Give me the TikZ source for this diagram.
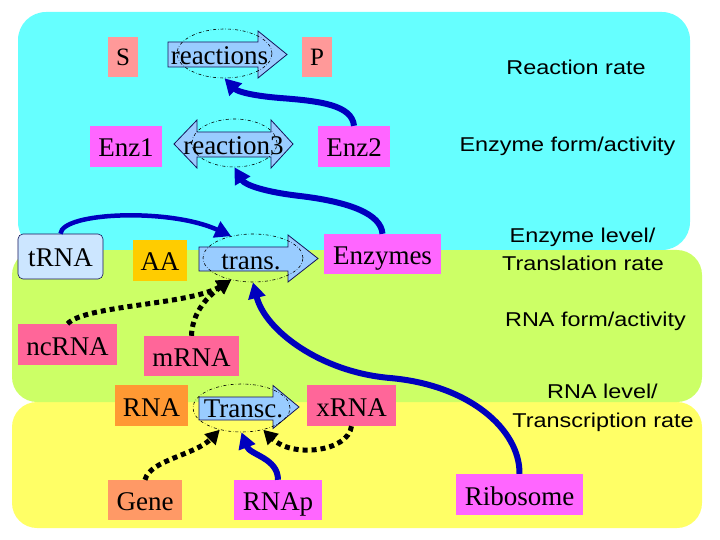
\documentclass[tikz,border=0pt]{standalone}
\usepackage{fontspec}
\usepackage{graphicx}
\setmainfont{Liberation Serif}
\newfontfamily\labelfont{Liberation Sans}
\usetikzlibrary{shapes.geometric,arrows.meta}
\definecolor{bgcyan}{HTML}{66FFFF}
\definecolor{bggreen}{HTML}{CCFF66}
\definecolor{bgyellow}{HTML}{FFFF66}
\definecolor{csalmon}{HTML}{FF9999}
\definecolor{cmagenta}{HTML}{FF66FF}
\definecolor{cgold}{HTML}{FFCC00}
\definecolor{cpink}{HTML}{FF6699}
\definecolor{corange}{HTML}{FF9933}
\definecolor{cgene}{HTML}{FF9966}
\definecolor{ctrna}{HTML}{CCE6FF}
\definecolor{carrow}{HTML}{99CCFF}
\definecolor{cnavy}{RGB}{0,0,190}
\definecolor{cedge}{RGB}{20,20,90}
\begin{document}
\begin{tikzpicture}[x=1bp,y=-1bp,
  stdbox/.style={inner sep=0pt, text height=21bp, text depth=0pt,
    font=\fontsize{27bp}{30bp}\selectfont},
  smallbox/.style={inner sep=0pt, text height=18bp, text depth=0pt,
    font=\fontsize{25bp}{30bp}\selectfont},
  arrtext/.style={inner sep=0pt, anchor=base, font=\fontsize{27bp}{30bp}\selectfont},
  blockarrow/.style={fill=carrow, draw=cedge, line width=0.8bp, line join=miter},
  ell/.style={ellipse, draw=black, dash dot, line width=0.6bp, inner sep=0pt},
  bluecon/.style={draw=cnavy, line width=6bp, -{Triangle[length=16bp,width=17bp]}},
  dotcon/.style={draw=black, line width=5bp, dash pattern=on 5bp off 4bp,
    -{Triangle[length=14bp,width=15bp]}},
  side/.style={inner sep=0pt, anchor=base, font=\labelfont\fontsize{20bp}{24bp}\selectfont}]
\useasboundingbox (0,0) rectangle (720,540);
% backgrounds
\fill[bgyellow, rounded corners=25bp] (12,402) rectangle (702,528);
\fill[bggreen, rounded corners=25bp] (12,250) rectangle (702,402);
\fill[bgcyan, rounded corners=28bp] (18,12) rectangle (690,250);
% block arrows
\draw[blockarrow] (168,42) -- (258,42) -- (258,31) -- (287,54.5) -- (258,78) -- (258,67) -- (168,67) -- cycle;
\draw[blockarrow] (174,144) -- (197,120) -- (197,132) -- (271,132) -- (271,120) -- (293,144) -- (271,168) -- (271,157) -- (197,157) -- (197,168) -- cycle;
\draw[blockarrow] (199,247) -- (288,247) -- (288,235) -- (318,258.5) -- (288,282) -- (288,271) -- (199,271) -- cycle;
\draw[blockarrow] (199,397) -- (273,397) -- (273,385.5) -- (299,407) -- (273,428.5) -- (273,420) -- (199,420) -- cycle;
% ellipses
\node[ell, minimum width=95bp, minimum height=49bp] (reactE) at (224.5,53.5) {};
\node[ell, minimum width=85bp, minimum height=48bp] (r3E) at (234.5,143) {};
\node[ell, minimum width=100bp, minimum height=48bp] (transE) at (253,258) {};
\node[ell, minimum width=97bp, minimum height=48bp] (TranscE) at (241.5,408) {};
% arrow texts
\node[arrtext] (reactT) at (219.5,65) {reactions};
\node[arrtext] (r3T) at (233.5,155) {reaction3};
\node[arrtext] (transT) at (251,270) {trans.};
\node[arrtext] (TranscT) at (243.5,417) {Transc.};
% boxes
\node[smallbox, fill=csalmon, minimum width=30bp, minimum height=40bp] (S) at (123,57) {S};
\node[smallbox, fill=csalmon, minimum width=30bp, minimum height=40bp] (P) at (317,57) {P};
\node[stdbox, fill=cmagenta, minimum width=72bp, minimum height=41bp] (Enz1) at (126,146.5) {Enz1};
\node[stdbox, fill=cmagenta, minimum width=72bp, minimum height=41bp] (Enz2) at (354,146.5) {Enz2};
\node[stdbox, fill=ctrna, draw=cedge, line width=0.6bp, rounded corners=5bp, minimum width=85bp, minimum height=45bp] (tRNA) at (60.5,256.5) {tRNA};
\node[stdbox, fill=cgold, minimum width=54bp, minimum height=41bp] (AA) at (160,260.5) {AA};
\node[stdbox, fill=cmagenta, minimum width=117bp, minimum height=40bp] (Enzymes) at (382.5,254) {Enzymes};
\node[stdbox, fill=cpink, minimum width=99bp, minimum height=41bp] (ncRNA) at (67.5,344.5) {ncRNA};
\node[stdbox, fill=cpink, minimum width=95bp, minimum height=40bp] (mRNA) at (191.5,356) {mRNA};
\node[stdbox, fill=corange, minimum width=73bp, minimum height=41bp] (RNA) at (151.5,405.5) {RNA};
\node[stdbox, fill=cpink, minimum width=89bp, minimum height=41bp] (xRNA) at (351.5,405.5) {xRNA};
\node[stdbox, fill=cgene, minimum width=74bp, minimum height=40bp] (Gene) at (145,500) {Gene};
\node[stdbox, fill=cmagenta, minimum width=88bp, minimum height=40bp] (RNAp) at (278,500) {RNAp};
\node[stdbox, fill=cmagenta, minimum width=127bp, minimum height=41bp] (Ribosome) at (519.5,494.5) {Ribosome};
% side labels
\node[side] (lRR) at (576,75) {\scalebox{1.17}[1]{Reaction rate}};
\node[side] (lEF) at (567.5,152) {\scalebox{1.17}[1]{Enzyme form/activity}};
\node[side] (lEL) at (582.5,243) {\scalebox{1.17}[1]{Enzyme level/}};
\node[side] (lTR) at (583,271) {\scalebox{1.17}[1]{Translation rate}};
\node[side] (lRF) at (595.5,326) {\scalebox{1.17}[1]{RNA form/activity}};
\node[side] (lRL) at (602.5,398) {\scalebox{1.17}[1]{RNA level/}};
\node[side] (lTsR) at (603,427) {\scalebox{1.17}[1]{Transcription rate}};
% connectors
\draw[bluecon] (Enz2.north) .. controls (352,105) and (320,101) .. (280,98) .. controls (255,96) and (238,92) .. (reactE.south);
\draw[bluecon] (Enzymes.north) .. controls (381,214) and (350,202) .. (300,196) .. controls (265,192) and (245,185) .. (r3E.south);
\draw[bluecon, line width=4.5bp] (tRNA.north) .. controls (62,212) and (170,208) .. (transE.135);
\draw[bluecon] (Ribosome.north) .. controls (520,430) and (470,385) .. (390,378) .. controls (320,372) and (265,330) .. (transE.south);
\draw[dotcon] (ncRNA.north) .. controls (85,305) and (190,305) .. (transE.225);
\draw[dotcon] (mRNA.north) .. controls (192,315) and (205,298) .. (transE.225);
\draw[dotcon] (Gene.north) .. controls (150,460) and (195,455) .. (TranscE.225);
\draw[dotcon] (xRNA.south) .. controls (348,452) and (292,458) .. (TranscE.315);
\draw[bluecon] (RNAp.north) .. controls (278,458) and (250,455) .. (TranscE.south);
\end{tikzpicture}
\end{document}
